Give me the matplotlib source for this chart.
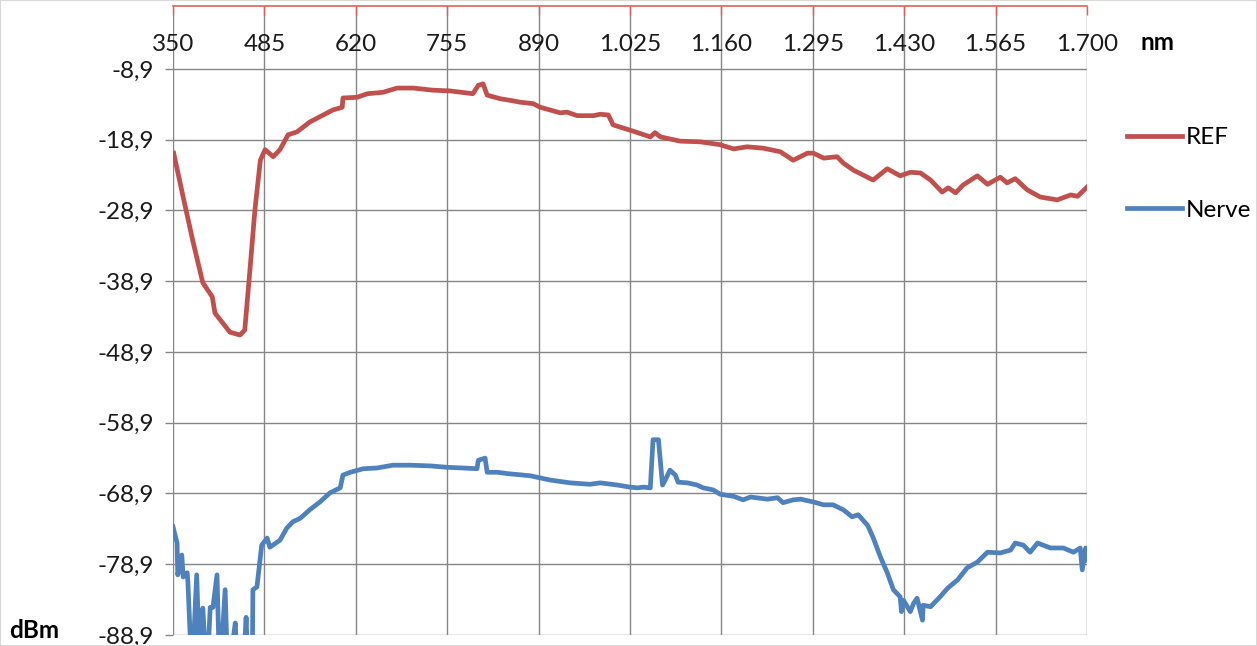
import numpy as np
import matplotlib.pyplot as plt
from matplotlib.patches import Rectangle

# wavelength [nm] and power [dBm]
ref_nm = [351, 365, 380, 394, 408, 412, 434, 449, 456, 464, 471, 479, 486, 498, 508,
          520, 533, 552, 572, 586, 597, 600, 601, 622, 637, 660, 681, 705, 734, 759,
          793, 801, 808, 814, 833, 852, 863, 882, 892, 922, 932, 947, 971, 981, 993,
          1000, 1030, 1055, 1062, 1070, 1099, 1129, 1158, 1178, 1198, 1222, 1247, 1266,
          1287, 1296, 1311, 1331, 1340, 1355, 1384, 1405, 1424, 1439, 1454, 1469, 1486,
          1495, 1506, 1517, 1538, 1553, 1572, 1582, 1594, 1612, 1631, 1656, 1676, 1686, 1700]
ref_db = [-20.8, -27.0, -33.5, -39.1, -41.1, -43.4, -46.1, -46.5, -45.8, -36.9, -28.8, -21.8,
          -20.3, -21.3, -20.3, -18.2, -17.8, -16.4, -15.4, -14.7, -14.4, -14.3, -13.0, -12.9,
          -12.4, -12.2, -11.6, -11.6, -11.9, -12.0, -12.4, -11.2, -11.0, -12.6, -13.1, -13.4,
          -13.6, -13.8, -14.3, -15.1, -15.0, -15.5, -15.5, -15.3, -15.4, -16.8, -17.7, -18.5,
          -17.9, -18.5, -19.1, -19.2, -19.6, -20.2, -19.9, -20.1, -20.6, -21.8, -20.8, -20.8,
          -21.5, -21.3, -22.2, -23.2, -24.6, -23.0, -24.0, -23.5, -23.6, -24.6, -26.3, -25.7,
          -26.4, -25.3, -24.0, -25.2, -24.2, -25.0, -24.4, -26.0, -27.0, -27.4, -26.7, -26.9, -25.6]

nerve_nm = [350, 356, 357, 363, 365, 371, 372, 378, 385, 390, 394, 400, 405, 409, 415, 419,
            427, 431, 442, 445, 453, 458, 461, 467, 468, 474, 481, 489, 493, 508, 518, 527,
            538, 552, 567, 582, 597, 601, 612, 631, 651, 675, 700, 730, 755, 779, 799, 801,
            811, 814, 829, 845, 878, 907, 937, 966, 981, 1006, 1025, 1036, 1045, 1055, 1059,
            1067, 1073, 1077, 1084, 1092, 1096, 1110, 1124, 1133, 1148, 1158, 1178, 1192, 1203,
            1228, 1243, 1251, 1266, 1277, 1296, 1311, 1325, 1340, 1353, 1362, 1376, 1384, 1395,
            1405, 1414, 1424, 1426, 1429, 1439, 1444, 1449, 1457, 1458, 1469, 1483, 1494, 1509,
            1523, 1538, 1553, 1572, 1587, 1594, 1606, 1616, 1627, 1646, 1665, 1680, 1690, 1693,
            1698, 1700]
nerve_db = [-73.6, -75.9, -80.4, -77.6, -80.7, -80.1, -81.4, -95, -80.4, -95, -85.1, -95,
            -85.0, -85.0, -80.4, -95, -82.5, -95, -87.2, -95, -95, -86.4, -95, -95, -82.5,
            -82.1, -76.2, -75.2, -76.5, -75.5, -73.8, -72.9, -72.4, -71.2, -70.1, -68.8, -68.1,
            -66.3, -65.9, -65.4, -65.3, -64.9, -64.9, -65.0, -65.2, -65.3, -65.4, -64.2, -63.9,
            -65.9, -65.9, -66.1, -66.4, -67.0, -67.4, -67.6, -67.4, -67.7, -68.0, -68.1, -68.0,
            -68.1, -61.3, -61.3, -67.7, -67.0, -65.6, -66.3, -67.3, -67.4, -67.7, -68.1, -68.4,
            -69.0, -69.3, -69.8, -69.4, -69.7, -69.5, -70.2, -69.8, -69.7, -70.1, -70.5, -70.5,
            -71.2, -72.2, -71.9, -73.4, -75.1, -77.9, -80.1, -82.5, -83.5, -85.6, -84.0, -85.6,
            -84.4, -83.7, -86.8, -84.7, -84.9, -83.5, -82.3, -81.1, -79.4, -78.6, -77.2, -77.3,
            -76.9, -75.9, -76.2, -77.2, -75.9, -76.6, -76.6, -77.2, -76.6, -79.7, -76.6, -78.3]

x_ticks = np.arange(350, 1701, 135)
y_ticks = np.arange(-88.9, -8.8, 10)

plt.rcParams['font.family'] = ['Lato', 'DejaVu Sans']
fs = 17.5

fig = plt.figure(figsize=(12.57, 6.46), dpi=100)
fig.patches.append(Rectangle((0, 0), 1, 1, transform=fig.transFigure, fill=False,
                             edgecolor='#D9D9D9', lw=1.5))
ax = fig.add_axes([173 / 1257, 1 - 635 / 646, (1087 - 173) / 1257, (635 - 6) / 646])

ax.plot(ref_nm, ref_db, color='#C0504D', lw=3.4, label='REF', solid_joinstyle='round')
ax.plot(nerve_nm, nerve_db, color='#4F81BD', lw=3.4, label='Nerve', solid_joinstyle='round')

ax.set_xlim(350, 1700)
ax.set_ylim(-88.9, 0)
ax.set_xticks(x_ticks)
ax.set_xticklabels([f"{v:,}".replace(',', '.') for v in x_ticks], fontsize=fs)
ax.set_yticks(y_ticks)
ax.set_yticklabels([f"{v:.1f}".replace('.', ',') for v in y_ticks], fontsize=fs)

ax.xaxis.tick_top()
ax.tick_params(axis='x', direction='in', length=6.5, width=1, color='#E06060',
               pad=-35, labelcolor='#1a1a1a')
ax.tick_params(axis='y', direction='out', length=6, width=1, color='#868686',
               pad=8, labelcolor='#1a1a1a')
ax.grid(True, color='#868686', lw=1.0)
ax.set_axisbelow(True)
for s in ['left', 'right', 'bottom']:
    ax.spines[s].set_visible(False)
ax.spines['top'].set_color('#E06060')
ax.spines['top'].set_linewidth(1.2)

fig.text(1157 / 1257, 1 - 42 / 646, 'nm', fontsize=fs, fontweight='bold', ha='center', va='center')
fig.text(34 / 1257, 1 - 631 / 646, 'dBm', fontsize=fs, fontweight='bold', ha='center', va='center')

fig.legend(loc='upper left', bbox_to_anchor=(1127 / 1257, 1 - 127 / 646), frameon=False,
           fontsize=fs, handlelength=2.25, handletextpad=0.16, labelspacing=2.12, borderpad=0,
           borderaxespad=0)

fig.savefig('out.png', dpi=100)
